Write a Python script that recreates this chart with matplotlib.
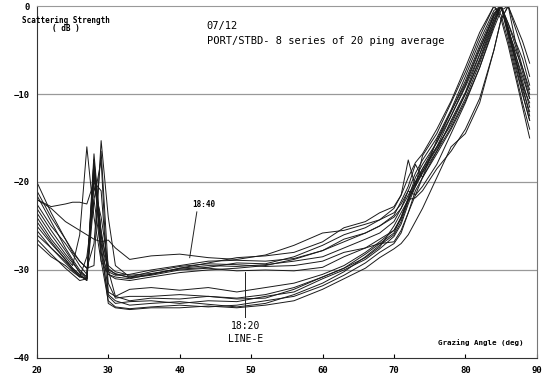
import numpy as np
import matplotlib.pyplot as plt

# grazing angle grid (deg) shared by all series
angle = [20, 22, 24, 25, 26, 27, 28, 29, 30, 31, 33, 36, 40, 44, 48, 52, 56, 60,
         63, 66, 68, 70, 71, 72, 73, 74, 76, 78, 80, 82, 84, 85, 86, 87, 88, 89]

# upper group (~ -30 dB plateau)
u1 = [-21.5, -24.5, -27.5, -28.8, -30.0, -30.8, -18.5, -27.0, -30.0, -30.4, -30.9, -30.6, -30.0, -29.8, -30.1, -30.0, -30.1, -29.7,
      -28.5, -27.5, -27.0, -26.8, -25.5, -23.5, -21.5, -19.5, -16.5, -13.0, -9.8, -5.5, -1.5, 0.0, -2.5, -5.5, -8.5, -11.5]
u2 = [-24.0, -26.5, -28.5, -29.5, -26.0, -16.0, -24.0, -29.0, -30.5, -30.8, -31.0, -30.5, -29.8, -29.5, -29.6, -29.4, -29.0, -28.5,
      -27.5, -26.5, -25.8, -24.5, -23.0, -21.5, -20.0, -18.5, -15.5, -12.0, -8.5, -4.5, -0.8, 0.0, -3.0, -6.0, -9.0, -12.5]
u3 = [-23.0, -25.5, -27.8, -29.0, -30.3, -31.0, -17.5, -26.0, -29.8, -30.5, -30.8, -30.2, -29.6, -29.3, -29.4, -29.6, -29.5, -29.0,
      -28.0, -27.5, -26.5, -25.5, -24.0, -22.0, -20.5, -18.8, -16.0, -12.5, -9.0, -5.0, -1.0, 0.0, -2.0, -4.5, -7.5, -10.5]
u4 = [-25.0, -27.0, -28.8, -29.8, -30.6, -31.2, -19.0, -25.5, -30.2, -30.6, -30.5, -30.0, -29.5, -29.0, -28.9, -29.0, -28.7, -27.8,
      -26.8, -25.8, -25.0, -24.0, -23.0, -21.0, -19.0, -17.5, -15.0, -11.8, -8.0, -4.0, -0.5, 0.0, -3.5, -7.0, -10.0, -13.0]
u5 = [-26.0, -27.5, -29.0, -30.0, -30.7, -31.0, -20.5, -24.0, -29.5, -30.2, -30.6, -30.4, -29.9, -29.7, -29.2, -29.3, -28.5, -27.2,
      -26.0, -25.2, -24.3, -23.0, -21.5, -17.5, -20.5, -17.0, -14.5, -11.0, -7.5, -3.5, 0.0, -1.0, -4.0, -7.5, -11.0, -14.0]
u6 = [-27.0, -28.5, -29.5, -30.2, -30.8, -28.5, -22.0, -28.0, -30.5, -31.0, -31.2, -30.8, -30.3, -30.0, -29.8, -29.5, -28.8, -27.8,
      -26.5, -25.8, -25.0, -23.8, -22.2, -20.5, -18.0, -19.5, -15.2, -12.0, -8.8, -4.8, -1.2, 0.0, -2.8, -5.0, -7.0, -9.5]
u7 = [-20.0, -23.5, -26.5, -28.0, -29.0, -29.8, -29.5, -15.3, -24.0, -29.5, -30.8, -30.5, -29.8, -29.2, -28.6, -28.4, -28.0, -26.8,
      -25.2, -24.5, -23.5, -22.8, -21.5, -19.5, -17.8, -16.8, -14.0, -10.8, -7.0, -3.0, 0.0, -1.5, -4.5, -8.0, -11.5, -15.0]
u8 = [-22.0, -23.0, -24.5, -25.0, -25.5, -26.0, -26.5, -26.8, -26.6, -27.5, -28.8, -28.4, -28.2, -28.6, -28.8, -28.3, -27.2, -25.8,
      -25.5, -24.8, -24.3, -23.5, -22.5, -21.0, -21.5, -20.5, -18.0, -14.5, -11.0, -7.0, -2.5, -0.5, 0.0, -2.5, -5.0, -8.0]

# lower group (~ -34 dB plateau)
l1 = [-22.5, -25.0, -27.0, -28.2, -29.5, -30.5, -16.8, -26.0, -32.5, -33.0, -32.2, -32.0, -32.3, -32.0, -32.5, -32.0, -31.5, -30.5,
      -29.5, -28.0, -26.8, -25.5, -24.2, -22.0, -20.0, -18.5, -16.0, -13.5, -10.0, -6.0, -1.5, 0.0, -2.0, -4.0, -6.0, -9.0]
l2 = [-23.5, -26.0, -28.2, -29.2, -30.2, -30.8, -17.5, -28.0, -33.0, -33.8, -33.6, -33.5, -33.8, -33.5, -33.6, -33.0, -32.5, -31.0,
      -30.0, -28.8, -27.6, -26.2, -24.8, -22.5, -20.5, -19.0, -16.5, -13.8, -10.5, -6.5, -2.0, 0.0, -3.0, -6.5, -10.0, -13.0]
l3 = [-24.5, -26.8, -28.8, -29.8, -30.5, -31.2, -18.0, -29.0, -33.5, -34.2, -34.4, -34.2, -34.0, -34.2, -34.0, -33.5, -33.0, -31.8,
      -30.6, -29.2, -28.0, -27.0, -25.8, -23.5, -21.0, -19.5, -16.8, -14.0, -10.8, -7.0, -2.2, 0.0, -2.5, -5.5, -8.0, -10.5]
l4 = [-25.5, -27.5, -29.2, -30.0, -30.8, -31.0, -22.0, -17.5, -32.8, -33.5, -34.0, -33.8, -33.6, -33.9, -34.2, -33.8, -32.8, -31.5,
      -30.2, -28.5, -27.2, -26.0, -24.5, -22.2, -20.2, -18.8, -16.2, -13.2, -10.0, -6.2, -1.8, 0.0, -3.2, -6.0, -9.5, -12.0]
l5 = [-26.5, -28.2, -29.8, -30.5, -31.2, -31.0, -19.5, -27.0, -33.8, -34.3, -34.5, -34.3, -34.3, -34.1, -34.3, -34.0, -33.5, -32.2,
      -31.0, -29.8, -28.6, -27.6, -27.0, -26.0, -24.5, -23.0, -19.5, -16.0, -14.5, -11.0, -5.0, -1.5, 0.0, -4.0, -7.0, -10.0]
l6 = [-21.0, -24.0, -26.5, -27.8, -29.0, -29.8, -27.0, -16.5, -30.0, -33.0, -33.5, -33.2, -33.3, -33.0, -33.3, -33.2, -32.2, -30.8,
      -29.8, -28.2, -27.0, -25.8, -24.0, -21.8, -19.5, -18.0, -15.5, -12.5, -9.2, -5.5, -1.0, 0.0, -2.5, -6.0, -9.0, -11.0]
l7 = [-22.0, -22.8, -22.5, -22.3, -22.3, -22.5, -20.0, -21.0, -31.5, -33.2, -33.0, -33.0, -32.8, -33.0, -33.2, -32.8, -32.0, -30.8,
      -29.8, -28.6, -27.4, -25.0, -23.5, -22.0, -21.8, -21.0, -18.5, -16.5, -14.0, -10.5, -5.0, -1.5, 0.0, -2.0, -4.0, -6.5]

series = [u1, u2, u3, u4, u5, u6, u7, u8, l1, l2, l3, l4, l5, l6, l7]

fig = plt.figure(figsize=(5.5, 3.76), dpi=100)
ax = fig.add_axes([0.067, 0.048, 0.909, 0.936])

for s in series:
    ax.plot(angle, s, color='#1a1a1a', lw=0.7)

ax.set_xlim(20, 90)
ax.set_ylim(-40, 0)
ax.set_xticks(np.arange(20, 91, 10))
ax.set_yticks([0, -10, -20, -30, -40])
for yv in [-10, -20, -30]:
    ax.axhline(yv, color='#999999', lw=0.9, zorder=0)

mono = 'DejaVu Sans Mono'
ax.tick_params(axis='x', direction='in', length=3, pad=6, labelsize=6.5)
ax.tick_params(axis='y', length=0, pad=5, labelsize=6.5)
for lab in ax.get_xticklabels() + ax.get_yticklabels():
    lab.set_fontweight('bold')
    lab.set_family(mono)

ax.spines['top'].set_color('#999999')
ax.spines['right'].set_color('#777777')
ax.spines['left'].set_color('#333333')
ax.spines['bottom'].set_color('#333333')

fig.text(0.04, 0.94, 'Scattering Strength', family=mono, fontsize=5.5, fontweight='bold')
fig.text(0.095, 0.917, '( dB )', family=mono, fontsize=5.5, fontweight='bold')
fig.text(0.376, 0.923, '07/12', family=mono, fontsize=7.5)
fig.text(0.376, 0.884, 'PORT/STBD- 8 series of 20 ping average', family=mono, fontsize=7.5)
fig.text(0.797, 0.083, 'Grazing Angle (deg)', family=mono, fontsize=5.4, fontweight='bold')

# time labels with pointer lines
ax.plot([42.4, 41.4], [-23.4, -28.6], color='#222222', lw=0.7)
ax.text(41.8, -22.6, '18:40', family=mono, fontsize=5.5, fontweight='bold', va='center')
ax.plot([49.2, 49.2], [-30.2, -35.3], color='#222222', lw=0.7)
ax.text(49.2, -37.1, '18:20\nLINE-E', family=mono, fontsize=7, ha='center', va='center',
        linespacing=1.3)

plt.savefig('out.png', dpi=100)
